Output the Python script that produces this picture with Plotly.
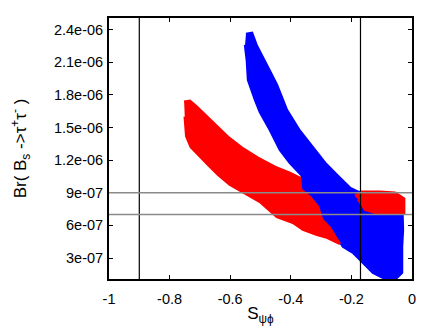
import plotly.graph_objects as go

# outline of the red point cloud (S_psi_phi, Br in units of 1e-6)
red_x = [-0.752, -0.733, -0.713, -0.683, -0.650, -0.607, -0.561, -0.508, -0.452, -0.403,
         -0.370, -0.366, -0.337, -0.310, -0.297, -0.271, -0.251, -0.238, -0.281, -0.314,
         -0.360, -0.393, -0.446, -0.502, -0.601, -0.640, -0.673, -0.706, -0.730, -0.745,
         -0.750]
red_y = [1.737, 1.746, 1.698, 1.616, 1.524, 1.414, 1.313, 1.221, 1.138, 1.083,
         1.037, 0.927, 0.863, 0.771, 0.652, 0.578, 0.487, 0.431, 0.487, 0.514,
         0.560, 0.624, 0.679, 0.817, 0.973, 1.065, 1.157, 1.250, 1.320, 1.420,
         1.600]

# small red patch to the right of the S = -0.17 line
red2_x = [-0.188, -0.165, -0.106, -0.056, -0.040, -0.026, -0.026, -0.056, -0.122, -0.155,
          -0.165, -0.178]
red2_y = [0.872, 0.909, 0.909, 0.900, 0.872, 0.845, 0.716, 0.707, 0.716, 0.744,
          0.789, 0.835]

# outline of the blue point cloud
blue_x = [-0.548, -0.528, -0.512, -0.492, -0.469, -0.446, -0.426, -0.413, -0.370, -0.330,
          -0.287, -0.238, -0.205, -0.178, -0.155, -0.033, -0.030, -0.030, -0.033, -0.033,
          -0.050, -0.096, -0.129, -0.149, -0.172, -0.195, -0.228, -0.248, -0.290, -0.330,
          -0.360, -0.375, -0.372, -0.360, -0.403, -0.436, -0.469, -0.502, -0.518, -0.541,
          -0.545, -0.551]
blue_y = [2.360, 2.369, 2.250, 2.149, 2.020, 1.892, 1.755, 1.662, 1.469, 1.322,
          1.175, 1.037, 0.946, 0.909, 0.890, 0.850, 0.679, 0.560, 0.404, 0.165,
          0.119, 0.119, 0.165, 0.220, 0.285, 0.349, 0.404, 0.496, 0.560, 0.660,
          0.800, 0.950, 1.030, 1.047, 1.175, 1.295, 1.478, 1.643, 1.755, 1.938,
          2.121, 2.259]

vlines = [-0.9, -0.17]
hlines = [0.9e-6, 0.7e-6]

x_ticks = [-1, -0.8, -0.6, -0.4, -0.2, 0]
x_labels = ['-1', '-0.8', '-0.6', '-0.4', '-0.2', '0']
y_ticks = [0.3e-6, 0.6e-6, 0.9e-6, 1.2e-6, 1.5e-6, 1.8e-6, 2.1e-6, 2.4e-6]
y_labels = ['3e-07', '6e-07', '9e-07', '1.2e-06', '1.5e-06', '1.8e-06', '2.1e-06', '2.4e-06']

fig = go.Figure()


def cloud(xs, ys, color):
    fig.add_trace(go.Scatter(
        x=xs, y=[v * 1e-6 for v in ys],
        mode='lines', fill='toself', fillcolor=color,
        line=dict(color=color, width=2.5),
        hoverinfo='skip', showlegend=False))


cloud(blue_x, blue_y, '#0000ff')
cloud(red_x, red_y, '#ff0000')
cloud(red2_x, red2_y, '#ff0000')

for v in vlines:
    fig.add_vline(x=v, line=dict(color='black', width=1.2), layer='above')
for h in hlines:
    fig.add_hline(y=h, line=dict(color='#8a8a8a', width=1.5), layer='above')

axis_common = dict(showgrid=False, zeroline=False, ticks='inside', ticklen=4,
                   tickwidth=1.2, tickcolor='black', showline=True, linecolor='black',
                   linewidth=2, mirror='ticks', automargin=False)

fig.update_xaxes(range=[-1, 0], tickvals=x_ticks, ticktext=x_labels, ticklabelstandoff=6,
                 title=dict(text='S<sub>ψϕ</sub>', standoff=1), **axis_common)
fig.update_yaxes(range=[0.107e-6, 2.507e-6], tickvals=y_ticks, ticktext=y_labels,
                 ticklabelstandoff=1,
                 title=dict(text='Br( B<sub>s</sub> ->τ<sup>+</sup>τ<sup>-</sup> )', standoff=43),
                 **axis_common)

# the page body has an 8px margin, so the figure is 8px smaller and the margins shifted
fig.update_layout(
    width=428, height=319,
    margin=dict(l=101, r=24, t=10, b=48),
    plot_bgcolor='white', paper_bgcolor='white',
    font=dict(family='Liberation Sans, Arial, sans-serif', size=14.5, color='black'),
)

fig.write_html("out.html")
